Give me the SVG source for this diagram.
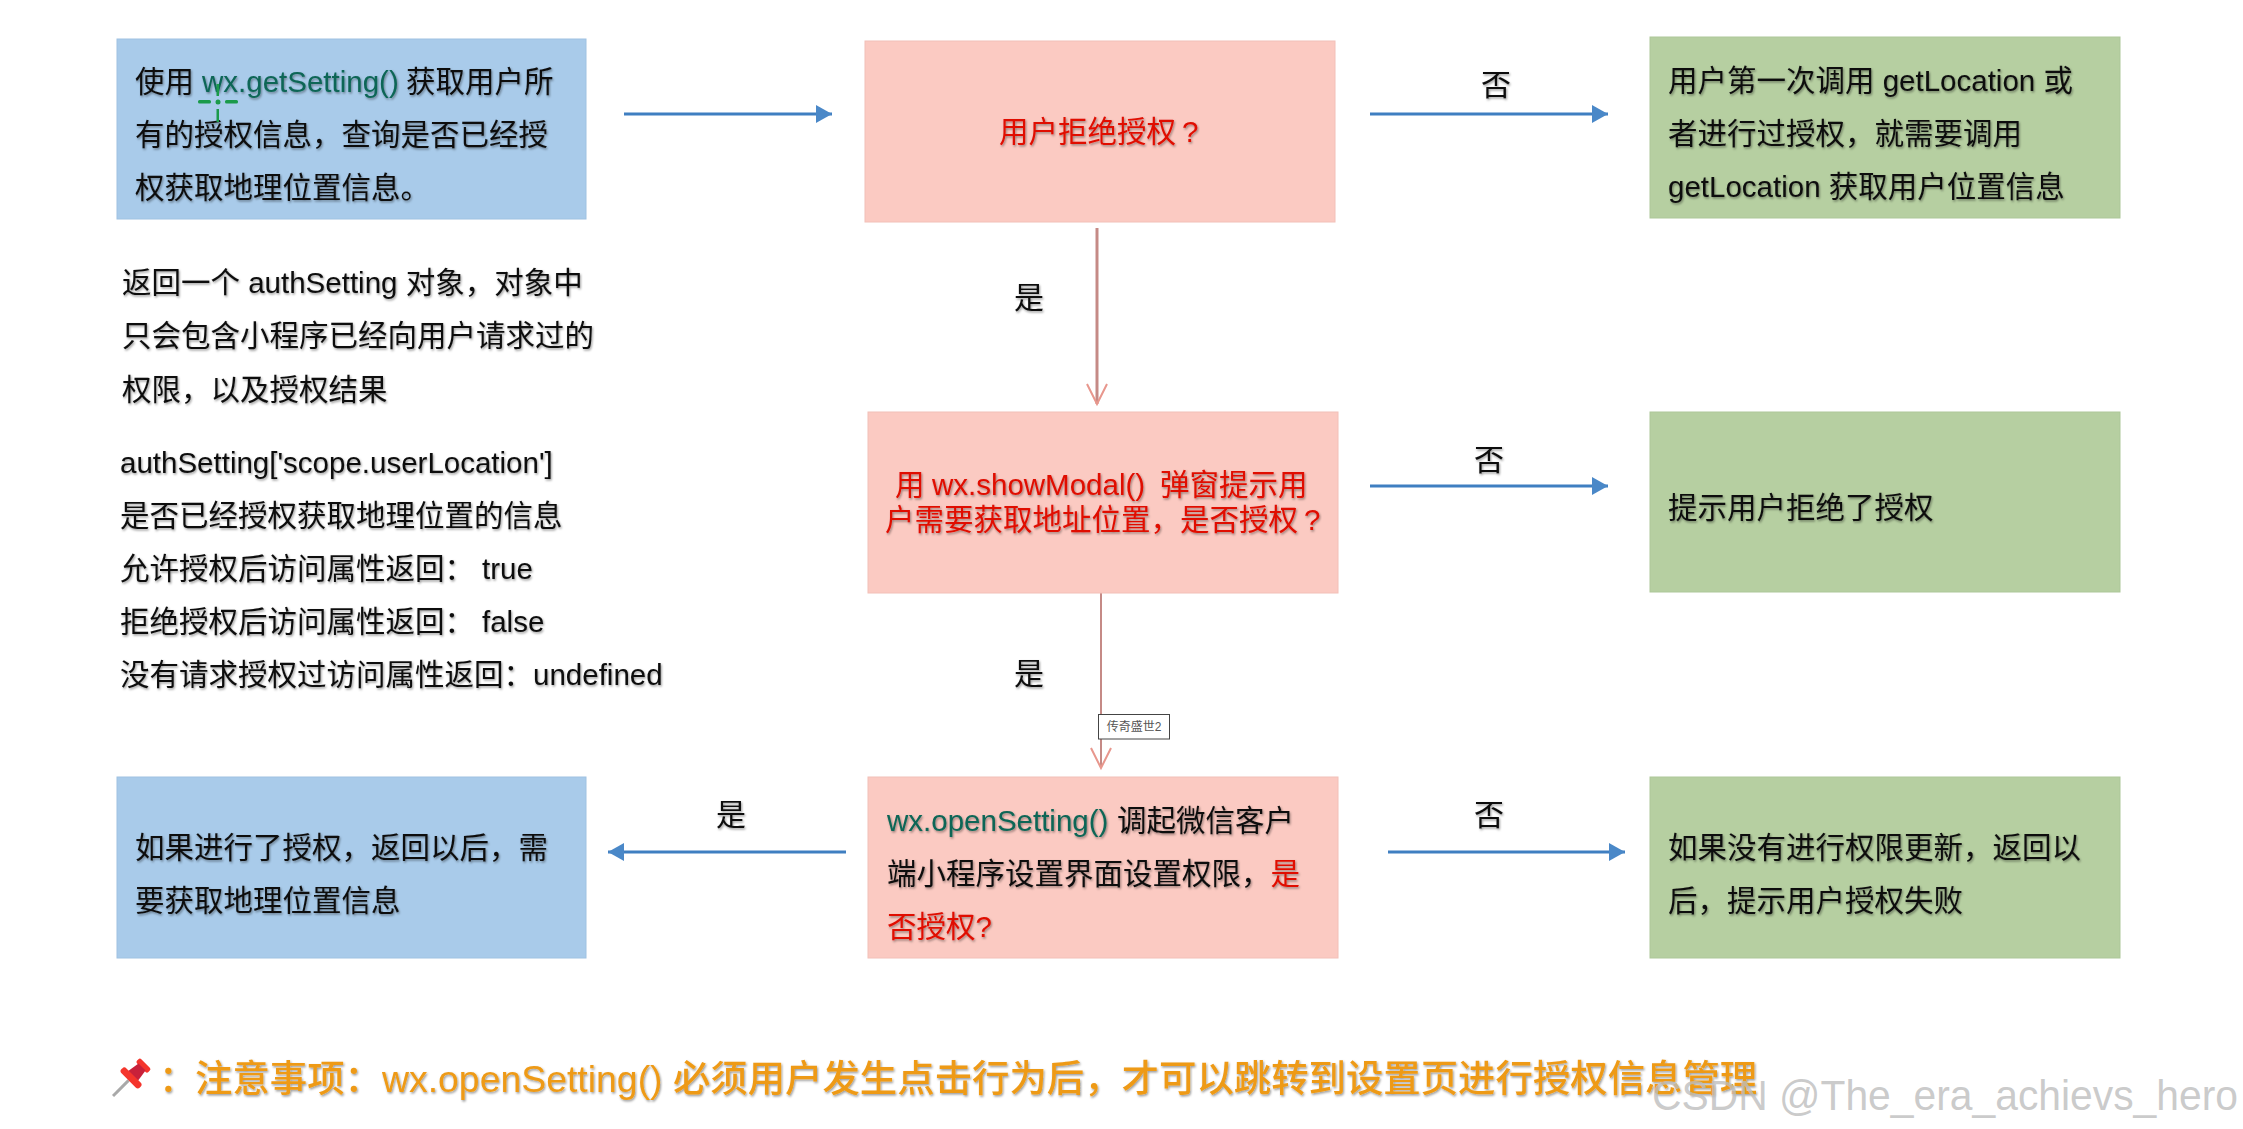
<svg xmlns="http://www.w3.org/2000/svg" width="2243" height="1129" viewBox="0 0 2243 1129">
<style>
text{font-family:"Liberation Sans","Noto Sans CJK SC",sans-serif;font-size:29.5px;fill:#111;filter:url(#soft)}
.blue{fill:#a9cbea;stroke:#9fc2e2;stroke-width:1}
.pink{fill:#fbcac2;stroke:#f2c0b8;stroke-width:1}
.green{fill:#b6cfa1;stroke:#adc799;stroke-width:1}
.red{fill:#e00d05}
.teal{fill:#0c6656}
.lab{font-size:30px;text-anchor:middle}
.note{font-size:37.4px;fill:#ee9a17;font-weight:500}
.ba{stroke:#3f7fc1;stroke-width:3;fill:none;marker-end:url(#tri)}
.ra{stroke:#c58a86;fill:none;marker-end:url(#open)}
</style>
<defs>
<filter id="soft" x="-5%" y="-30%" width="110%" height="170%"><feDropShadow dx="1" dy="1.5" stdDeviation="1" flood-color="#000" flood-opacity=".4"/></filter>
<marker id="tri" markerUnits="userSpaceOnUse" markerWidth="16" markerHeight="20" refX="16" refY="9" orient="auto"><path d="M0 0L16 9L0 18Z" fill="#4a88c8"/></marker>
<marker id="open" markerUnits="userSpaceOnUse" markerWidth="26" markerHeight="24" refX="22" refY="11" orient="auto"><path d="M2 1L22 11L2 21" fill="none" stroke="#e8978d" stroke-width="2"/></marker>
</defs>
<rect width="2243" height="1129" fill="#fff"/>
<g id="connectors">
<line class="ba" x1="624" y1="114" x2="832" y2="114"/>
<line class="ba" x1="1370" y1="114" x2="1608" y2="114"/>
<line class="ba" x1="1370" y1="486" x2="1608" y2="486"/>
<line class="ba" x1="846" y1="852" x2="608" y2="852"/>
<line class="ba" x1="1388" y1="852" x2="1625" y2="852"/>
<line class="ra" stroke-width="3" x1="1097" y1="228" x2="1097" y2="404"/>
<line class="ra" stroke-width="2" x1="1101" y1="593" x2="1101" y2="768"/>
</g>
<g id="n-getsetting">
<rect class="blue" x="117" y="39" width="469" height="180"/>
<text x="135" y="92">使用</text><text class="teal" x="202" y="92">wx.getSetting()</text><text x="406" y="92">获取用户所</text>
<text x="135" y="145">有的授权信息，查询是否已经授</text>
<text x="135" y="198">权获取地理位置信息。</text>
<g fill="#1a9a4a"><rect x="198" y="100" width="13" height="3.5" rx="1.5"/><circle cx="218" cy="102" r="2.5"/><rect x="225" y="100" width="13" height="3.5" rx="1.5"/><rect x="216.5" y="84" width="2.5" height="12"/><rect x="216.5" y="109" width="2.5" height="13"/></g>
</g>
<g id="n-rejected">
<rect class="pink" x="865" y="41" width="470" height="181"/>
<text class="red" x="999" y="142">用户拒绝授权</text><text class="red" x="1182" y="142">?</text>
</g>
<g id="n-first">
<rect class="green" x="1650" y="37" width="470" height="181"/>
<text x="1668" y="91">用户第一次调用 getLocation 或</text>
<text x="1668" y="144">者进行过授权，就需要调用</text>
<text x="1668" y="197">getLocation 获取用户位置信息</text>
</g>
<g id="n-authsetting">
<text x="122" y="293">返回一个 authSetting 对象，对象中</text>
<text x="122" y="346">只会包含小程序已经向用户请求过的</text>
<text x="122" y="400">权限，以及授权结果</text>
</g>
<g id="n-scope">
<text x="120" y="473">authSetting['scope.userLocation']</text>
<text x="120" y="526">是否已经授权获取地理位置的信息</text>
<text x="120" y="579">允许授权后访问属性返回：</text><text x="482" y="579">true</text>
<text x="120" y="632">拒绝授权后访问属性返回：</text><text x="482" y="632">false</text>
<text x="120" y="685">没有请求授权过访问属性返回：undefined</text>
</g>
<g id="n-showmodal">
<rect class="pink" x="868" y="412" width="470" height="181"/>
<text class="red" x="895" y="495">用</text><text class="red" x="932" y="495">wx.showModal()</text><text class="red" x="1160" y="495">弹窗提示用</text>
<text class="red" x="885" y="530">户需要获取地址位置，是否授权</text><text class="red" x="1304" y="530">?</text>
</g>
<g id="n-denied">
<rect class="green" x="1650" y="412" width="470" height="180"/>
<text x="1668" y="518">提示用户拒绝了授权</text>
</g>
<g id="n-opensetting">
<rect class="pink" x="868" y="777" width="470" height="181"/>
<text class="teal" x="887" y="831">wx.openSetting()</text><text x="1117" y="831">调起微信客户</text>
<text x="887" y="884">端小程序设置界面设置权限，<tspan class="red">是</tspan></text>
<text class="red" x="887" y="937">否授权?</text>
</g>
<g id="n-authorized">
<rect class="blue" x="117" y="777" width="469" height="181"/>
<text x="135" y="858">如果进行了授权，返回以后，需</text>
<text x="135" y="911">要获取地理位置信息</text>
</g>
<g id="n-failed">
<rect class="green" x="1650" y="777" width="470" height="181"/>
<text x="1668" y="858">如果没有进行权限更新，返回以</text>
<text x="1668" y="911">后，提示用户授权失败</text>
</g>
<g id="labels">
<text class="lab" x="1496" y="95">否</text>
<text class="lab" x="1489" y="470">否</text>
<text class="lab" x="1489" y="825">否</text>
<text class="lab" x="1029" y="308">是</text>
<text class="lab" x="1029" y="684">是</text>
<text class="lab" x="731" y="825">是</text>
</g>
<g id="tooltip">
<rect x="1098.5" y="714.5" width="71" height="24.5" fill="#fff" stroke="#444" stroke-width="1"/>
<text x="1134" y="731" text-anchor="middle" style="font-size:12px;fill:#555;filter:none">传奇盛世2</text>
</g>
<g id="note">
<g id="pin" transform="translate(130 1079) rotate(45)">
<rect x="-1.5" y="2" width="3" height="22" fill="#a9a9a9"/>
<rect x="-8" y="-22" width="16" height="6" rx="2" fill="#f4352c"/>
<path d="M-5 -17L5 -17L7 -4L-7 -4Z" fill="#c8213a"/>
<rect x="-13" y="-5" width="26" height="7" rx="3" fill="#f4352c"/>
</g>
<text class="note" x="159" y="1092">：</text>
<text class="note" x="195" y="1092">注意事项：wx.openSetting() 必须用户发生点击行为后，才可以跳转到设置页进行授权信息管理</text>
</g>
<text id="watermark" x="1652" y="1110" textLength="586" lengthAdjust="spacingAndGlyphs" style="font-size:42px;fill:#bdbdbd;fill-opacity:.8;filter:none">CSDN @The_era_achievs_hero</text>
</svg>
